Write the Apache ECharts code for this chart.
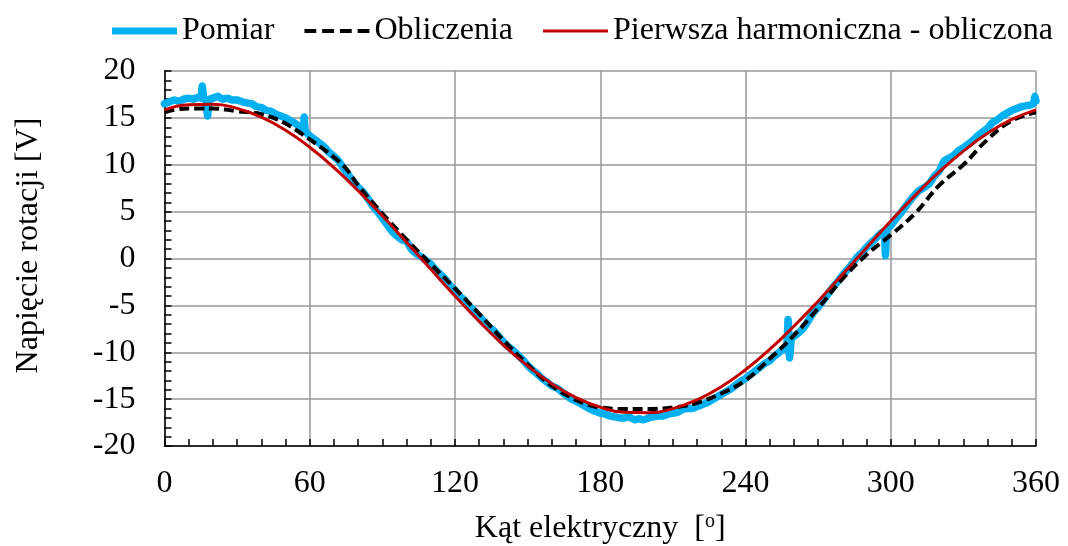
<!DOCTYPE html>
<html>
<head>
<meta charset="utf-8">
<script src="https://cdn.jsdelivr.net/npm/echarts@6/dist/echarts.min.js"></script>
<style>html,body{margin:0;padding:0;background:#fff}#c{width:1068px;height:546px}</style>
</head>
<body>
<div id="c"></div>
<script>
// ---- data ----
const seriesNames = ['Pomiar', 'Obliczenia', 'Pierwsza harmoniczna - obliczona'];
const xTicks = [0, 60, 120, 180, 240, 300, 360];
const yTicks = [-20, -15, -10, -5, 0, 5, 10, 15, 20];

const pomiarAngle = [0,2,4,6,8,10,12,14,15,15.6,16.2,17,17.8,18.5,20,22,24,26,28,30,32,34,36,38,40,42,44,46,48,50,52,54,56,57.3,57.7,58.2,60,62,64,66,68,70,72,74,76,78,80,82,84,86,88,90,92,94,96,98,100,102,104,106,108,110,112,114,116,118,120,122,124,126,128,130,132,134,136,138,140,142,144,146,148,150,152,154,156,158,160,162,164,166,168,170,172,174,176,178,180,182,184,186,188,190,192,194,196,198,200,202,204,206,208,210,212,214,216,218,220,222,224,226,228,230,232,234,236,238,240,242,244,246,248,250,252,254,256,257,257.6,258.2,259,260,262,264,266,268,270,272,274,276,278,280,282,284,286,288,290,292,294,296,297.3,297.8,298.4,300,302,304,306,308,310,312,314,316,318,320,322,324,326,328,330,332,334,336,338,340,342,344,346,348,350,352,354,356,358,359,359.6,360];
const pomiarValue = [16.5,16.7,16.9,16.8,17.0,17.1,17.0,17.2,17.1,18.4,17.2,17.0,15.2,17.0,17.1,17.3,17.0,17.1,16.9,16.9,16.7,16.6,16.5,16.2,16.1,15.8,15.7,15.4,15.2,15.0,14.7,14.4,14.0,13.8,15.1,13.6,13.1,12.7,12.3,11.9,11.3,10.9,10.4,9.6,8.9,8.2,7.6,7.1,6.4,5.6,5.0,4.3,3.6,2.9,2.4,2.0,1.8,1.0,0.5,0.2,-0.2,-0.6,-1.2,-1.7,-2.2,-2.9,-3.4,-4.0,-4.5,-5.1,-5.6,-6.2,-6.7,-7.3,-7.7,-8.3,-8.9,-9.4,-9.8,-10.3,-10.8,-11.4,-11.9,-12.3,-12.8,-13.2,-13.6,-13.8,-14.2,-14.6,-15.0,-15.2,-15.5,-15.8,-16.1,-16.3,-16.5,-16.6,-16.8,-16.9,-17.0,-17.0,-16.9,-17.2,-17.1,-17.2,-17.0,-16.9,-16.8,-16.8,-16.6,-16.5,-16.4,-16.1,-16.0,-16.0,-15.8,-15.6,-15.4,-15.1,-14.8,-14.5,-14.2,-13.9,-13.5,-13.1,-12.8,-12.4,-12.0,-11.6,-11.2,-10.9,-10.4,-10.0,-9.6,-9.5,-6.5,-10.6,-8.5,-8.3,-7.9,-7.4,-6.6,-5.8,-5.2,-4.5,-3.8,-3.1,-2.5,-1.8,-1.2,-0.6,0.1,0.6,1.2,1.7,2.2,2.7,2.9,0.3,3.1,3.5,4.2,4.8,5.5,6.2,6.8,7.3,7.6,8.0,8.8,9.3,10.4,10.7,11.0,11.5,11.8,12.2,12.6,13.1,13.5,13.9,14.5,14.8,15.2,15.5,15.8,16.0,16.2,16.3,16.4,16.6,17.3,16.8];

const oblAngle = [0,5,10,15,20,25,30,35,40,45,50,55,60,65,70,75,80,90,100,110,120,130,140,150,160,170,175,180,190,200,210,215,220,230,240,250,260,270,280,290,300,310,320,330,340,350,360];
const oblValue = [15.6,15.9,16.0,16.0,16.0,15.9,15.7,15.6,15.4,15.0,14.4,13.6,12.7,11.8,10.8,9.6,7.8,4.8,2.0,-0.6,-3.2,-5.9,-8.7,-11.3,-13.6,-15.1,-15.6,-15.9,-16.05,-16.05,-15.9,-15.7,-15.4,-14.4,-13.0,-10.7,-8.2,-5.3,-2.2,0.4,2.5,4.8,7.8,10.0,12.7,14.7,15.6];

const harmAngle = [0,10,20,30,40,50,60,70,80,90,100,110,120,130,140,150,160,170,180,190,200,210,220,230,240,250,260,270,280,290,300,310,320,330,340,350,360];
const harmValue = [15.86,16.41,16.46,16.01,15.07,13.68,11.87,9.70,7.23,4.55,1.72,-1.15,-3.99,-6.71,-9.23,-11.46,-13.35,-14.83,-15.86,-16.41,-16.46,-16.01,-15.07,-13.68,-11.87,-9.70,-7.23,-4.55,-1.72,1.15,3.99,6.71,9.23,11.46,13.35,14.83,15.86];

const zip = (a, b) => a.map((v, i) => [v, b[i]]);
const FONT = '"Liberation Serif","Times New Roman",serif';

const chart = echarts.init(document.getElementById('c'), null, {renderer: 'canvas'});
chart.setOption({
  animation: false,
  backgroundColor: '#fff',
  textStyle: {fontFamily: FONT, color: '#000'},
  legend: {
    top: 10, left: 107,
    itemWidth: 65, itemHeight: 8, itemGap: 30,
    textStyle: {fontFamily: FONT, fontSize: 32, color: '#000'},
    data: [
      {name: seriesNames[0], icon: 'path://M0,0.5h65v7h-65z'},
      {name: seriesNames[1], icon: 'path://M0,2h12v4h-12z M18,2h12v4h-12z M36,2h12v4h-12z M54,2h12v4h-12z'},
      {name: seriesNames[2], icon: 'path://M0,2.5h63v3h-63z'}
    ]
  },
  grid: {left: 164.5, right: 32, top: 71, bottom: 100, containLabel: false, outerBoundsMode: 'none'},
  xAxis: {
    type: 'value', min: xTicks[0], max: xTicks[xTicks.length - 1], interval: 60,
    name: 'Kąt elektryczny  [{sup|o}]', nameLocation: 'middle', nameGap: 66,
    nameTextStyle: {fontFamily: FONT, fontSize: 32, color: '#000',
      rich: {sup: {fontFamily: FONT, fontSize: 20, color: '#000', padding: [0, 0, 14, 0]}}},
    axisLine: {show: true, onZero: false, lineStyle: {color: '#000', width: 1.5}},
    axisTick: {show: true, inside: true, length: 7, lineStyle: {color: '#000', width: 1.5}},
    minorTick: {show: true, splitNumber: 6, length: 7, lineStyle: {color: '#000', width: 1.5}},
    axisLabel: {fontFamily: FONT, fontSize: 32, color: '#000', margin: 22},
    splitLine: {show: true, lineStyle: {color: '#999', width: 1.5}}
  },
  yAxis: {
    type: 'value', min: yTicks[0], max: yTicks[yTicks.length - 1], interval: 5,
    name: 'Napięcie rotacji [V]', nameLocation: 'middle', nameGap: 120,
    nameTextStyle: {fontFamily: FONT, fontSize: 32, color: '#000', padding: [0, 0, 0, 26]},
    axisLine: {show: true, onZero: false, lineStyle: {color: '#000', width: 1.5}},
    axisTick: {show: true, inside: true, length: 7, lineStyle: {color: '#000', width: 1.5}},
    minorTick: {show: true, splitNumber: 5, length: 7, lineStyle: {color: '#000', width: 1.5}},
    axisLabel: {fontFamily: FONT, fontSize: 32, color: '#000', margin: 29},
    splitLine: {show: true, lineStyle: {color: '#999', width: 1.5}}
  },
  series: [
    {name: seriesNames[0], type: 'line', data: zip(pomiarAngle, pomiarValue), symbol: 'none',
     smooth: 0.2, lineStyle: {color: '#00B0F0', width: 7.5, cap: 'round', join: 'round'}, itemStyle: {color: '#00B0F0'}},
    {name: seriesNames[1], type: 'line', data: zip(oblAngle, oblValue), symbol: 'none',
     smooth: 0.4, lineStyle: {color: '#000', width: 4, type: [10, 5]}, itemStyle: {color: '#000'}},
    {name: seriesNames[2], type: 'line', data: zip(harmAngle, harmValue), symbol: 'none',
     smooth: 0.5, lineStyle: {color: '#C00000', width: 3}, itemStyle: {color: '#C00000'}}
  ]
});
</script>
</body>
</html>
